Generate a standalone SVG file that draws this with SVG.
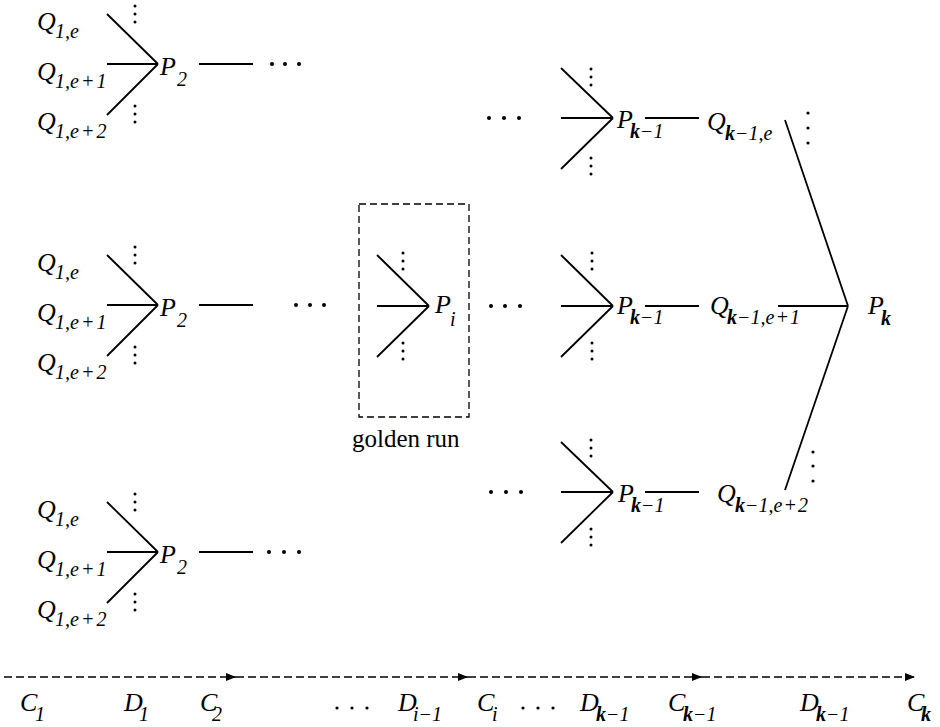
<svg xmlns="http://www.w3.org/2000/svg" width="940" height="727" viewBox="0 0 940 727">
<defs>
<style>
.m{font-family:'Liberation Serif','Times New Roman','DejaVu Serif',serif;font-style:italic;font-size:26px;fill:#000}
.s{font-size:20px}
.b{font-weight:bold}
.r{font-family:'Liberation Serif','Times New Roman','DejaVu Serif',serif;font-size:25px;fill:#000}
.ln{stroke:#000;stroke-width:1.8;fill:none}
.ax{stroke:#000;stroke-width:1.3;fill:none;stroke-dasharray:8 4}
.box{stroke:#000;stroke-width:1.3;fill:none;stroke-dasharray:7 4}
.d{fill:#000}
</style>
<marker id="ah" markerWidth="10" markerHeight="8" refX="10" refY="4" orient="auto" markerUnits="userSpaceOnUse">
<path d="M0,0 L10,4 L0,8 Z" fill="#000"/>
</marker>
</defs>
<rect width="940" height="727" fill="#fff"/>

<g id="connectors">
<path class="ln" d="M107,14 L158,64 M107,64 L158,64 M158,64 L107,115 M199,64 L253,64"/>
<path class="ln" d="M107,255 L158,305 M107,305 L158,305 M158,305 L107,356 M199,305 L253,305"/>
<path class="ln" d="M107,502 L158,552 M107,552 L158,552 M158,552 L107,603 M199,552 L253,552"/>
<path class="ln" d="M377,255 L429,306 M377,306 L429,306 M429,306 L377,357"/>
<path class="ln" d="M561,68 L613,118 M561,118 L613,118 M613,118 L561,169 M645,118 L699,118"/>
<path class="ln" d="M561,255 L613,306 M561,306 L613,306 M613,306 L561,357 M645,306 L699,306"/>
<path class="ln" d="M561,442 L613,492 M561,492 L613,492 M613,492 L561,543 M645,492 L699,492"/>
<path class="ln" d="M785,120 L848,306 M778,306 L848,306 M848,306 L785,490"/>
<path class="ax" d="M4,677 L236,677" marker-end="url(#ah)"/>
<path class="ax" d="M236,677 L468,677" marker-end="url(#ah)"/>
<path class="ax" d="M468,677 L702,677" marker-end="url(#ah)"/>
<path class="ax" d="M702,677 L915,677" marker-end="url(#ah)"/>
</g>

<g id="left-top">
<text class="m" x="37" y="30">Q<tspan class="s" x="55" y="38">1,e</tspan></text>
<text class="m" x="37" y="80">Q<tspan class="s" x="55" y="88">1,e</tspan><tspan class="s" dx="2">+</tspan><tspan class="s" dx="2">1</tspan></text>
<text class="m" x="37" y="130">Q<tspan class="s" x="55" y="138">1,e</tspan><tspan class="s" dx="2">+</tspan><tspan class="s" dx="2">2</tspan></text>
<g class="d"><circle cx="135" cy="6" r="1.5"/><circle cx="135" cy="14" r="1.5"/><circle cx="135" cy="22" r="1.5"/><circle cx="135" cy="106" r="1.5"/><circle cx="135" cy="114" r="1.5"/><circle cx="135" cy="122" r="1.5"/></g>
<text class="m" x="160" y="75">P<tspan class="s" x="177" y="86">2</tspan></text>
<g class="d"><circle cx="272" cy="64" r="2"/><circle cx="285" cy="64" r="2"/><circle cx="299" cy="64" r="2"/></g>
</g>

<g id="left-mid">
<text class="m" x="37" y="271">Q<tspan class="s" x="55" y="279">1,e</tspan></text>
<text class="m" x="37" y="321">Q<tspan class="s" x="55" y="329">1,e</tspan><tspan class="s" dx="2">+</tspan><tspan class="s" dx="2">1</tspan></text>
<text class="m" x="37" y="371">Q<tspan class="s" x="55" y="379">1,e</tspan><tspan class="s" dx="2">+</tspan><tspan class="s" dx="2">2</tspan></text>
<g class="d"><circle cx="135" cy="247" r="1.5"/><circle cx="135" cy="255" r="1.5"/><circle cx="135" cy="263" r="1.5"/><circle cx="135" cy="347" r="1.5"/><circle cx="135" cy="355" r="1.5"/><circle cx="135" cy="363" r="1.5"/></g>
<text class="m" x="160" y="316">P<tspan class="s" x="177" y="327">2</tspan></text>
<g class="d"><circle cx="296" cy="305" r="2"/><circle cx="310" cy="305" r="2"/><circle cx="324" cy="305" r="2"/></g>
</g>

<g id="left-bot">
<text class="m" x="37" y="518">Q<tspan class="s" x="55" y="526">1,e</tspan></text>
<text class="m" x="37" y="568">Q<tspan class="s" x="55" y="576">1,e</tspan><tspan class="s" dx="2">+</tspan><tspan class="s" dx="2">1</tspan></text>
<text class="m" x="37" y="618">Q<tspan class="s" x="55" y="626">1,e</tspan><tspan class="s" dx="2">+</tspan><tspan class="s" dx="2">2</tspan></text>
<g class="d"><circle cx="135" cy="494" r="1.5"/><circle cx="135" cy="502" r="1.5"/><circle cx="135" cy="510" r="1.5"/><circle cx="135" cy="594" r="1.5"/><circle cx="135" cy="602" r="1.5"/><circle cx="135" cy="610" r="1.5"/></g>
<text class="m" x="160" y="563">P<tspan class="s" x="177" y="574">2</tspan></text>
<g class="d"><circle cx="269" cy="552" r="2"/><circle cx="284" cy="552" r="2"/><circle cx="299" cy="552" r="2"/></g>
</g>

<g id="golden-run">
<rect class="box" x="359" y="204" width="110" height="213"/>
<g class="d"><circle cx="403" cy="253" r="1.5"/><circle cx="403" cy="261" r="1.5"/><circle cx="403" cy="269" r="1.5"/><circle cx="403" cy="343" r="1.5"/><circle cx="403" cy="351" r="1.5"/><circle cx="403" cy="359" r="1.5"/></g>
<text class="m" x="435" y="313">P<tspan class="s" x="450" y="326">i</tspan></text>
<text class="r" x="352" y="447">golden run</text>
<g class="d"><circle cx="491" cy="306" r="2"/><circle cx="505" cy="306" r="2"/><circle cx="520" cy="306" r="2"/></g>
</g>

<g id="right-top">
<g class="d"><circle cx="489" cy="118" r="2"/><circle cx="504" cy="118" r="2"/><circle cx="519" cy="118" r="2"/></g>
<g class="d"><circle cx="591" cy="69" r="1.5"/><circle cx="591" cy="77" r="1.5"/><circle cx="591" cy="85" r="1.5"/><circle cx="591" cy="158" r="1.5"/><circle cx="591" cy="166" r="1.5"/><circle cx="591" cy="174" r="1.5"/></g>
<text class="m" x="617" y="128">P<tspan class="s b" x="630" y="138">k</tspan><tspan class="s">−1</tspan></text>
<text class="m" x="707" y="130">Q<tspan class="s b" x="725" y="140">k</tspan><tspan class="s">−1,e</tspan></text>
<g class="d"><circle cx="808" cy="113" r="1.6"/><circle cx="808" cy="128" r="1.6"/><circle cx="808" cy="143" r="1.6"/></g>
</g>

<g id="right-mid">
<g class="d"><circle cx="592" cy="253" r="1.5"/><circle cx="592" cy="261" r="1.5"/><circle cx="592" cy="269" r="1.5"/><circle cx="592" cy="343" r="1.5"/><circle cx="592" cy="351" r="1.5"/><circle cx="592" cy="359" r="1.5"/></g>
<text class="m" x="617" y="314">P<tspan class="s b" x="630" y="324">k</tspan><tspan class="s">−1</tspan></text>
<text class="m" x="710" y="314">Q<tspan class="s b" x="727" y="324">k</tspan><tspan class="s">−1,e</tspan><tspan class="s" dx="1">+</tspan><tspan class="s" dx="1">1</tspan></text>
</g>

<g id="right-bot">
<g class="d"><circle cx="491" cy="492" r="2"/><circle cx="506" cy="492" r="2"/><circle cx="521" cy="492" r="2"/></g>
<g class="d"><circle cx="591" cy="440" r="1.5"/><circle cx="591" cy="448" r="1.5"/><circle cx="591" cy="456" r="1.5"/><circle cx="591" cy="529" r="1.5"/><circle cx="591" cy="537" r="1.5"/><circle cx="591" cy="545" r="1.5"/></g>
<text class="m" x="618" y="502">P<tspan class="s b" x="631" y="512">k</tspan><tspan class="s">−1</tspan></text>
<text class="m" x="717" y="502">Q<tspan class="s b" x="735" y="512">k</tspan><tspan class="s">−1,e</tspan><tspan class="s" dx="1">+</tspan><tspan class="s" dx="1">2</tspan></text>
<g class="d"><circle cx="813" cy="452" r="1.6"/><circle cx="813" cy="466" r="1.6"/><circle cx="813" cy="481" r="1.6"/></g>
</g>

<g id="pk">
<text class="m" x="868" y="314">P<tspan class="s b" x="881" y="325">k</tspan></text>
</g>

<g id="axis-labels">
<text class="m" x="20" y="711">C<tspan class="s" x="35" y="721">1</tspan></text>
<text class="m" x="124" y="711">D<tspan class="s" x="139" y="721">1</tspan></text>
<text class="m" x="200" y="711">C<tspan class="s" x="212" y="721">2</tspan></text>
<g class="d"><circle cx="337" cy="708" r="1.6"/><circle cx="352" cy="708" r="1.6"/><circle cx="367" cy="708" r="1.6"/></g>
<text class="m" x="398" y="711">D<tspan class="s" x="413" y="721">i−1</tspan></text>
<text class="m" x="477" y="711">C<tspan class="s" x="492" y="721">i</tspan></text>
<g class="d"><circle cx="523" cy="708" r="1.6"/><circle cx="538" cy="708" r="1.6"/><circle cx="553" cy="708" r="1.6"/></g>
<text class="m" x="580" y="711">D<tspan class="s b" x="596" y="721">k</tspan><tspan class="s">−1</tspan></text>
<text class="m" x="668" y="711">C<tspan class="s b" x="683" y="721">k</tspan><tspan class="s">−1</tspan></text>
<text class="m" x="800" y="711">D<tspan class="s b" x="816" y="721">k</tspan><tspan class="s">−1</tspan></text>
<text class="m" x="907" y="711">C<tspan class="s b" x="921" y="721">k</tspan></text>
</g>
</svg>
